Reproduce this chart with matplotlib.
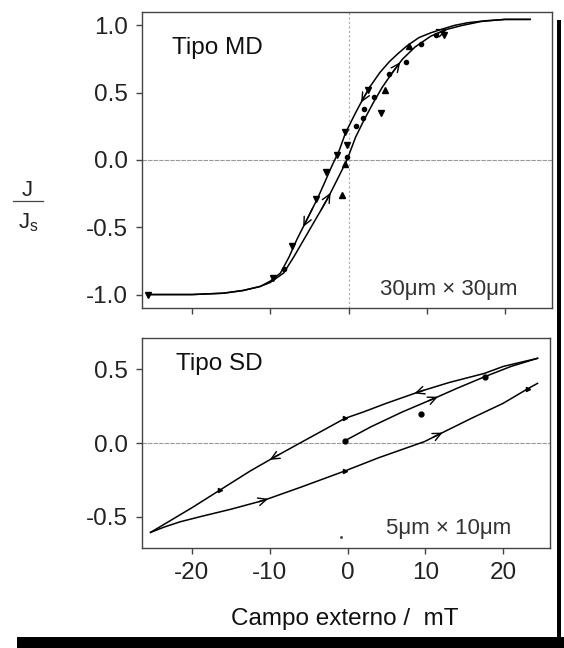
import numpy as np
import matplotlib
matplotlib.use('Agg')
import matplotlib.pyplot as plt
from matplotlib.patches import Rectangle
from matplotlib.lines import Line2D

plt.rcParams['font.family'] = ['Liberation Sans', 'DejaVu Sans']
plt.rcParams['axes.unicode_minus'] = False

# --- Tipo MD (30um x 30um) ---
md_down_x = [-25.6, -20, -16, -13.5, -11.3, -10, -8.7, -7.6, -6.6, -5.3, -4.0, -3.0, -2.1, -1.2,
             -0.4, 0.8, 1.8, 2.8, 4.0, 5.2, 6.3, 7.5, 9.0, 10.5, 11.8, 13.5, 15.2, 17.5, 20, 23.2]
md_down_y = [-1.0, -1.0, -0.99, -0.97, -0.94, -0.90, -0.84, -0.72, -0.59, -0.44, -0.29, -0.16, -0.04, 0.07,
             0.20, 0.34, 0.45, 0.55, 0.65, 0.73, 0.79, 0.85, 0.91, 0.945, 0.97, 1.0, 1.02, 1.035, 1.045, 1.045]
md_up_x = [-25.6, -20, -16, -13.5, -11.3, -10, -8.3, -7.0, -5.7, -4.2, -2.7, -1.4, -0.2, 0.9,
           2.0, 3.2, 4.3, 5.6, 6.9, 8.5, 10.5, 12.5, 14.5, 17, 20, 23.2]
md_up_y = [-1.0, -1.0, -0.99, -0.97, -0.94, -0.91, -0.84, -0.72, -0.59, -0.44, -0.29, -0.14, 0.0, 0.17,
           0.30, 0.43, 0.54, 0.65, 0.75, 0.84, 0.92, 0.97, 1.0, 1.03, 1.045, 1.045]

md_tri_down_x = [-25.6, -9.6, -7.2, -4.1, -2.9, -1.5, -0.4, -0.2, 2.5, 4.2, 12.2]
md_tri_down_y = [-1.0, -0.88, -0.64, -0.29, -0.09, 0.04, 0.21, 0.11, 0.52, 0.35, 0.93]
md_tri_up_x = [-0.8, -0.4, 4.7, 7.7]
md_tri_up_y = [-0.26, -0.03, 0.52, 0.85]
md_dot_x = [-8.3, -0.2, 1.0, 1.8, 2.0, 3.2, 5.2, 7.3, 9.2, 11.2]
md_dot_y = [-0.81, 0.02, 0.25, 0.31, 0.38, 0.47, 0.64, 0.73, 0.86, 0.93]

# --- Tipo SD (5um x 10um) ---
sd_upper_x = [24.4, 20, 17.6, 13, 9.3, 5, 2, -0.35, -3, -6.1, -9.3, -12.5, -16.4, -20, -25.3]
sd_upper_y = [0.575, 0.52, 0.473, 0.41, 0.35, 0.27, 0.21, 0.167, 0.09, 0.0, -0.093, -0.19, -0.32, -0.44, -0.607]
sd_lower_x = [-25.3, -23.5, -21.5, -18.9, -15, -10.8, -6, -0.35, 4, 9.9, 11.6, 16, 20, 23.2, 24.4]
sd_lower_y = [-0.607, -0.57, -0.535, -0.50, -0.45, -0.39, -0.30, -0.19, -0.10, 0.01, 0.055, 0.17, 0.27, 0.37, 0.405]
sd_init_x = [-0.35, 3, 7, 11, 14, 17.6, 21, 24.4]
sd_init_y = [0.015, 0.11, 0.21, 0.30, 0.37, 0.45, 0.52, 0.575]

sd_tri_x = [-0.35, -16.4, -0.35, 23.2]
sd_tri_y = [0.167, -0.32, -0.19, 0.37]
sd_dot_x = [-0.35, 9.4, 17.6]
sd_dot_y = [0.015, 0.2, 0.45]

x_ticks = [-20, -10, 0, 10, 20]

W, H = 564, 648
fig = plt.figure(figsize=(W / 100, H / 100), dpi=100)


def px_axes(left, top, right, bottom):
    return fig.add_axes([left / W, 1 - bottom / H, (right - left) / W, (bottom - top) / H])


def arrow(ax, xs, ys, x0, direction):
    order = np.argsort(xs)
    xp = np.asarray(xs)[order]
    yp = np.asarray(ys)[order]
    x1 = x0 - 1.2 * direction
    ax.annotate('', xy=(x0, np.interp(x0, xp, yp)), xytext=(x1, np.interp(x1, xp, yp)),
                arrowprops=dict(arrowstyle='->,head_length=0.6,head_width=0.28',
                                color='k', lw=1.0, shrinkA=0, shrinkB=0))


def style(ax):
    for s in ax.spines.values():
        s.set_color('#444444')
        s.set_linewidth(1.0)
    ax.tick_params(direction='out', length=4, width=1, colors='#444444',
                   labelcolor='#222222', labelsize=17.5)
    ax.tick_params(axis='y', pad=6)
    ax.tick_params(axis='x', pad=6)
    ax.set_xticks(x_ticks)
    ax.set_xlim(-26.4, 26)


ax1 = px_axes(142, 12, 552, 308)
ax2 = px_axes(142, 338, 550, 548)

# top panel
ax1.axhline(0, color='#999999', lw=0.8, ls=(0, (4, 1)), zorder=0)
ax1.axvline(0, color='#aaaaaa', lw=0.8, ls=(0, (2, 2)), zorder=0)
ax1.plot(md_down_x, md_down_y, color='k', lw=1.1)
ax1.plot(md_up_x, md_up_y, color='k', lw=1.1)
ax1.plot(md_tri_down_x, md_tri_down_y, 'v', color='k', ms=4)
ax1.plot(md_tri_up_x, md_tri_up_y, '^', color='k', ms=4)
ax1.plot(md_dot_x, md_dot_y, 'o', color='k', ms=3)
arrow(ax1, md_down_x, md_down_y, 1.6, -1)
arrow(ax1, md_down_x, md_down_y, -5.8, -1)
arrow(ax1, md_up_x, md_up_y, -2.3, 1)
arrow(ax1, md_up_x, md_up_y, 6.6, 1)
arrow(ax1, md_up_x, md_up_y, 12.6, 1)
ax1.set_ylim(-1.1, 1.1)
ax1.set_yticks([-1.0, -0.5, 0.0, 0.5, 1.0])
ax1.yaxis.set_major_formatter(plt.FormatStrFormatter('%.1f'))
style(ax1)
ax1.tick_params(axis='x', labelbottom=False)
ax1.text(-22.6, 0.836, 'Tipo MD', fontsize=17.5, va='center', ha='left', color='#111111')
ax1.text(12.8, -0.96, '30\u03bcm \u00d7 30\u03bcm', fontsize=16, va='center', ha='center', color='#333333')

# bottom panel
ax2.axhline(0, color='#999999', lw=0.8, ls=(0, (4, 1)), zorder=0)
ax2.plot(sd_upper_x, sd_upper_y, color='k', lw=1.1)
ax2.plot(sd_lower_x, sd_lower_y, color='k', lw=1.1)
ax2.plot(sd_init_x, sd_init_y, color='k', lw=1.1)
ax2.plot(sd_tri_x, sd_tri_y, '>', color='k', ms=3)
ax2.plot(sd_dot_x, sd_dot_y, 'o', color='k', ms=3.5)
ax2.plot([-0.8], [-0.64], 'o', color='#555555', ms=1.2)
arrow(ax2, sd_upper_x, sd_upper_y, 8.6, -1)
arrow(ax2, sd_upper_x, sd_upper_y, -10.0, -1)
arrow(ax2, sd_lower_x, sd_lower_y, -10.2, 1)
arrow(ax2, sd_lower_x, sd_lower_y, 12.2, 1)
arrow(ax2, sd_init_x, sd_init_y, 11.6, 1)
ax2.set_ylim(-0.713, 0.713)
ax2.set_yticks([-0.5, 0.0, 0.5])
ax2.yaxis.set_major_formatter(plt.FormatStrFormatter('%.1f'))
style(ax2)
ax2.text(-22.0, 0.536, 'Tipo SD', fontsize=17.5, va='center', ha='left', color='#111111')
ax2.text(13.0, -0.58, '5\u03bcm \u00d7 10\u03bcm', fontsize=16, va='center', ha='center', color='#333333')

# axis labels
fig.text(345 / W, 1 - 619 / H, 'Campo externo /  mT', fontsize=17.5, ha='center', va='center', color='#111111')
fig.text(27 / W, 1 - 190 / H, 'J', fontsize=16, ha='center', va='center', color='#222222')
fig.add_artist(Line2D([13 / W, 43 / W], [1 - 201 / H] * 2, color='#444444', lw=0.9))
fig.text(28 / W, 1 - 223 / H, r'$\mathregular{J_s}$', fontsize=16, ha='center', va='center', color='#222222')

# black border pieces
fig.add_artist(Rectangle((17 / W, 0), (W - 17) / W, 11 / H, transform=fig.transFigure,
                         facecolor='black', edgecolor='none'))
fig.add_artist(Rectangle((557 / W, 11 / H), 4 / W, (637 - 20) / H, transform=fig.transFigure,
                         facecolor='black', edgecolor='none'))

fig.savefig('out.png', dpi=100)
